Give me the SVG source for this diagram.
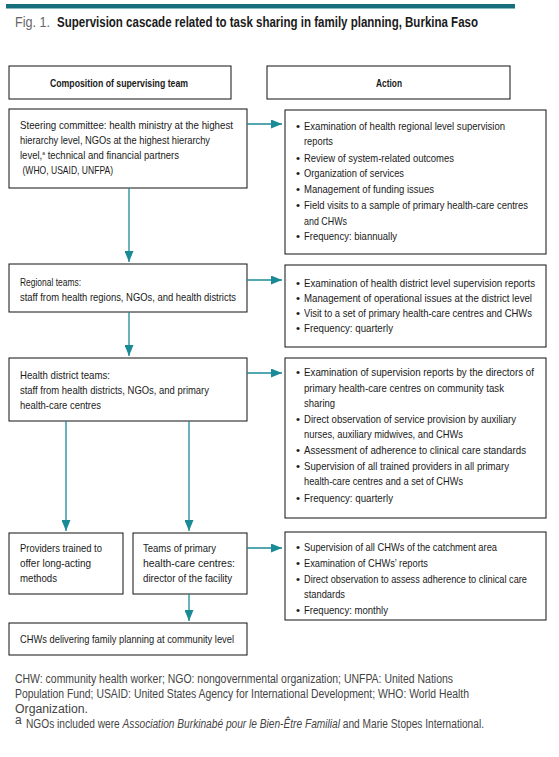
<svg xmlns="http://www.w3.org/2000/svg" width="559" height="757" viewBox="0 0 559 757">
<style>
.box{fill:#fff;stroke:#111;stroke-width:1}
.t{font-family:"Liberation Sans",Arial,sans-serif;font-size:11.5px;fill:#1a1a1a}
.h{font-family:"Liberation Sans",Arial,sans-serif;font-size:11.5px;font-weight:bold;fill:#1a1a1a}
.f{font-family:"Liberation Sans",Arial,sans-serif;font-size:12px;fill:#444}
.conn{stroke:#1b8a97;stroke-width:1.3;fill:none}
</style>
<defs>
<marker id="ah" markerUnits="userSpaceOnUse" markerWidth="11" markerHeight="9" refX="11" refY="4.5" orient="auto">
<path d="M0,0 L11,4.5 L0,9 z" fill="#1b8a97"/>
</marker>
</defs>
<rect width="559" height="757" fill="#fff"/>
<rect x="6" y="4" width="509" height="4.5" fill="#176f7e"/>
<g id="title">
<text x="15" y="27" font-family="Liberation Sans,Arial,sans-serif" font-size="15" fill="#666" textLength="35" lengthAdjust="spacingAndGlyphs">Fig. 1.</text>
<text x="57" y="27" font-family="Liberation Sans,Arial,sans-serif" font-size="15" font-weight="bold" fill="#1a1a1a" textLength="421" lengthAdjust="spacingAndGlyphs">Supervision cascade related to task sharing in family planning, Burkina Faso</text>
</g>
<g id="hdr-left"><rect class="box" x="9" y="66" width="222" height="33"/>
<text class="h" x="50" y="87" textLength="138" lengthAdjust="spacingAndGlyphs">Composition of supervising team</text></g>
<g id="hdr-right"><rect class="box" x="267" y="66" width="243" height="33"/>
<text class="h" x="376" y="87" textLength="26" lengthAdjust="spacingAndGlyphs">Action</text></g>

<g id="steering"><rect class="box" x="9" y="109" width="238" height="79"/>
<text class="t" x="20" y="129" textLength="213" lengthAdjust="spacingAndGlyphs">Steering committee: health ministry at the highest</text>
<text class="t" x="20" y="144" textLength="190" lengthAdjust="spacingAndGlyphs">hierarchy level, NGOs at the highest hierarchy</text>
<text class="t" x="20" y="159" textLength="159" lengthAdjust="spacingAndGlyphs">level,<tspan font-size="6" dy="-4">a</tspan><tspan dy="4"> technical and financial partners</tspan></text>
<text class="t" x="22.5" y="174" textLength="90.5" lengthAdjust="spacingAndGlyphs">(WHO, USAID, UNFPA)</text></g>

<g id="action1"><rect class="box" x="285" y="110" width="261" height="144"/>
<g class="t">
<text x="296" y="130">•</text><text x="304" y="130" textLength="201" lengthAdjust="spacingAndGlyphs">Examination of health regional level supervision</text>
<text x="304" y="145" textLength="29" lengthAdjust="spacingAndGlyphs">reports</text>
<text x="296" y="161.5">•</text><text x="304" y="161.5" textLength="150" lengthAdjust="spacingAndGlyphs">Review of system-related outcomes</text>
<text x="296" y="177.3">•</text><text x="304" y="177.3" textLength="100" lengthAdjust="spacingAndGlyphs">Organization of services</text>
<text x="296" y="193.3">•</text><text x="304" y="193.3" textLength="130" lengthAdjust="spacingAndGlyphs">Management of funding issues</text>
<text x="296" y="209.3">•</text><text x="304" y="209.3" textLength="224" lengthAdjust="spacingAndGlyphs">Field visits to a sample of primary health-care centres</text>
<text x="304" y="224.5" textLength="43" lengthAdjust="spacingAndGlyphs">and CHWs</text>
<text x="296" y="240">•</text><text x="304" y="240" textLength="93" lengthAdjust="spacingAndGlyphs">Frequency: biannually</text>
</g></g>

<g id="regional"><rect class="box" x="9" y="264" width="238" height="48"/>
<text class="t" x="20" y="286" textLength="61" lengthAdjust="spacingAndGlyphs">Regional teams:</text>
<text class="t" x="20" y="301" textLength="216" lengthAdjust="spacingAndGlyphs">staff from health regions, NGOs, and health districts</text></g>

<g id="action2"><rect class="box" x="285" y="265" width="261" height="82"/>
<g class="t">
<text x="296" y="287">•</text><text x="304" y="287" textLength="231" lengthAdjust="spacingAndGlyphs">Examination of health district level supervision reports</text>
<text x="296" y="302">•</text><text x="304" y="302" textLength="228" lengthAdjust="spacingAndGlyphs">Management of operational issues at the district level</text>
<text x="296" y="317">•</text><text x="304" y="317" textLength="228" lengthAdjust="spacingAndGlyphs">Visit to a set of primary health-care centres and CHWs</text>
<text x="296" y="332">•</text><text x="304" y="332" textLength="89" lengthAdjust="spacingAndGlyphs">Frequency: quarterly</text>
</g></g>

<g id="district"><rect class="box" x="9" y="358" width="238" height="63"/>
<text class="t" x="20" y="379" textLength="90" lengthAdjust="spacingAndGlyphs">Health district teams:</text>
<text class="t" x="20" y="394" textLength="189" lengthAdjust="spacingAndGlyphs">staff from health districts, NGOs, and primary</text>
<text class="t" x="20" y="409" textLength="81" lengthAdjust="spacingAndGlyphs">health-care centres</text></g>

<g id="action3"><rect class="box" x="285" y="358" width="261" height="160"/>
<g class="t">
<text x="296" y="376">•</text><text x="304" y="376" textLength="230" lengthAdjust="spacingAndGlyphs">Examination of supervision reports by the directors of</text>
<text x="304" y="391.5" textLength="200" lengthAdjust="spacingAndGlyphs">primary health-care centres on community task</text>
<text x="304" y="406.5" textLength="31" lengthAdjust="spacingAndGlyphs">sharing</text>
<text x="296" y="423">•</text><text x="304" y="423" textLength="212" lengthAdjust="spacingAndGlyphs">Direct observation of service provision by auxiliary</text>
<text x="304" y="438.3" textLength="159" lengthAdjust="spacingAndGlyphs">nurses, auxiliary midwives, and CHWs</text>
<text x="296" y="454">•</text><text x="304" y="454" textLength="222" lengthAdjust="spacingAndGlyphs">Assessment of adherence to clinical care standards</text>
<text x="296" y="470">•</text><text x="304" y="470" textLength="205" lengthAdjust="spacingAndGlyphs">Supervision of all trained providers in all primary</text>
<text x="304" y="485" textLength="159" lengthAdjust="spacingAndGlyphs">health-care centres and a set of CHWs</text>
<text x="296" y="501.5">•</text><text x="304" y="501.5" textLength="89" lengthAdjust="spacingAndGlyphs">Frequency: quarterly</text>
</g></g>

<g id="providers"><rect class="box" x="9" y="533" width="114" height="61"/>
<text class="t" x="20" y="552" textLength="82" lengthAdjust="spacingAndGlyphs">Providers trained to</text>
<text class="t" x="20" y="567" textLength="71" lengthAdjust="spacingAndGlyphs">offer long-acting</text>
<text class="t" x="20" y="581.5" textLength="37" lengthAdjust="spacingAndGlyphs">methods</text></g>

<g id="phc-teams"><rect class="box" x="133" y="533" width="114" height="61"/>
<text class="t" x="143" y="552" textLength="73" lengthAdjust="spacingAndGlyphs">Teams of primary</text>
<text class="t" x="143" y="567" textLength="92" lengthAdjust="spacingAndGlyphs">health-care centres:</text>
<text class="t" x="143" y="581.5" textLength="89" lengthAdjust="spacingAndGlyphs">director of the facility</text></g>

<g id="action4"><rect class="box" x="285" y="532" width="261" height="88"/>
<g class="t">
<text x="296" y="551">•</text><text x="304" y="551" textLength="193" lengthAdjust="spacingAndGlyphs">Supervision of all CHWs of the catchment area</text>
<text x="296" y="567">•</text><text x="304" y="567" textLength="124" lengthAdjust="spacingAndGlyphs">Examination of CHWs’ reports</text>
<text x="296" y="583">•</text><text x="304" y="583" textLength="223" lengthAdjust="spacingAndGlyphs">Direct observation to assess adherence to clinical care</text>
<text x="304" y="598" textLength="41" lengthAdjust="spacingAndGlyphs">standards</text>
<text x="296" y="614">•</text><text x="304" y="614" textLength="84" lengthAdjust="spacingAndGlyphs">Frequency: monthly</text>
</g></g>

<g id="chws"><rect class="box" x="9" y="623" width="238" height="32"/>
<text class="t" x="20" y="643" textLength="214" lengthAdjust="spacingAndGlyphs">CHWs delivering family planning at community level</text></g>

<g id="connectors">
<line class="conn" x1="247" y1="124" x2="282" y2="124" marker-end="url(#ah)"/>
<line class="conn" x1="247" y1="280" x2="282" y2="280" marker-end="url(#ah)"/>
<line class="conn" x1="247" y1="373" x2="282" y2="373" marker-end="url(#ah)"/>
<line class="conn" x1="247" y1="548" x2="282" y2="548" marker-end="url(#ah)"/>
<line class="conn" x1="129" y1="188" x2="129" y2="262" marker-end="url(#ah)"/>
<line class="conn" x1="129" y1="312" x2="129" y2="356" marker-end="url(#ah)"/>
<line class="conn" x1="66" y1="421" x2="66" y2="531" marker-end="url(#ah)"/>
<line class="conn" x1="189" y1="421" x2="189" y2="531" marker-end="url(#ah)"/>
<line class="conn" x1="189" y1="594" x2="189" y2="621" marker-end="url(#ah)"/>
</g>

<g id="footer">
<text class="f" x="15" y="683" textLength="438" lengthAdjust="spacingAndGlyphs">CHW: community health worker; NGO: nongovernmental organization; UNFPA: United Nations</text>
<text class="f" x="15" y="698" textLength="454" lengthAdjust="spacingAndGlyphs">Population Fund; USAID: United States Agency for International Development; WHO: World Health</text>
<text class="f" x="15" y="713" textLength="73" lengthAdjust="spacingAndGlyphs">Organization.</text>
<text class="f" x="15" y="724" font-size="6.5">a</text>
<text class="f" x="26" y="728" textLength="458" lengthAdjust="spacingAndGlyphs">NGOs included were <tspan font-style="italic">Association Burkinabé pour le Bien-Être Familial</tspan> and Marie Stopes International.</text>
</g>
</svg>
